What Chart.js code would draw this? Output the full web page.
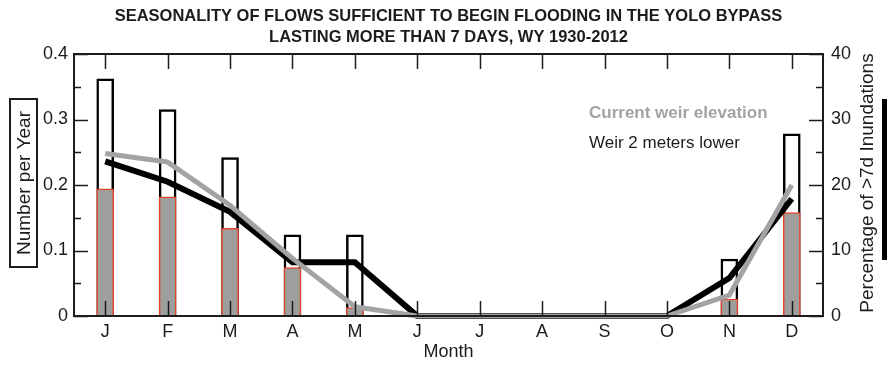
<!DOCTYPE html>
<html>
<head>
<meta charset="utf-8">
<script src="https://cdn.jsdelivr.net/npm/chart.js@4/dist/chart.umd.min.js"></script>
<style>
  html, body { margin: 0; padding: 0; background: #fff; }
  #wrap { width: 889px; height: 365px; position: relative; }
</style>
</head>
<body>
<div id="wrap"><canvas id="c"></canvas></div>
<script>
// Months of the water year shown on the x axis
const months = ['J', 'F', 'M', 'A', 'M', 'J', 'J', 'A', 'S', 'O', 'N', 'D'];

// Events per year (left axis): weir 2 m lower (open bars) and current weir (filled bars)
const ratesLowerWeir   = [0.362, 0.315, 0.242, 0.124, 0.124, 0, 0, 0, 0, 0, 0.087, 0.278];
const ratesCurrentWeir = [0.194, 0.182, 0.134, 0.074, 0.013, 0, 0, 0, 0, 0, 0.026, 0.158];

// Percentage of >7 day inundations falling in each month (right axis)
const pctCurrentWeir = [24.8, 23.5, 16.9, 8.8, 1.4, 0, 0, 0, 0, 0, 3.2, 20.0];
const pctLowerWeir   = [23.6, 20.5, 15.9, 8.2, 8.2, 0, 0, 0, 0, 0, 5.8, 17.9];

// Axis ranges and tick steps
const leftTicks  = { min: 0, max: 0.4, step: 0.1 };
const rightTicks = { min: 0, max: 40, step: 10 };

const titleLines = [
  'SEASONALITY OF FLOWS SUFFICIENT TO BEGIN FLOODING IN THE YOLO BYPASS',
  'LASTING MORE THAN 7 DAYS, WY 1930-2012'
];
const seriesNames = ['Current weir elevation', 'Weir 2 meters lower'];

const FONT = '"Liberation Sans", Arial, Helvetica, sans-serif';
const INK = '#1c1c1c';
const GREY = '#a3a3a3';

// Frame, inward tick marks, titles and legend text drawn on top of the plot
const decorations = {
  id: 'decorations',
  afterDatasetsDraw(chart) {
    const { ctx, chartArea: a, scales } = chart;
    const x = scales.x, yl = scales.y, yr = scales.y1;
    ctx.save();
    ctx.strokeStyle = INK;
    ctx.lineWidth = 1.5;
    ctx.beginPath();
    // month ticks, top and bottom
    x.ticks.forEach((t, i) => {
      const px = Math.round(x.getPixelForTick(i)) + 0.5;
      ctx.moveTo(px, a.top); ctx.lineTo(px, a.top + 15);
      ctx.moveTo(px, a.bottom); ctx.lineTo(px, a.bottom - 15);
    });
    // value ticks on both sides, with a minor tick halfway
    const side = (scale, xEdge, dir) => {
      const vals = scale.ticks.map(t => t.value);
      vals.forEach((v, i) => {
        const py = Math.round(scale.getPixelForValue(v)) + 0.5;
        ctx.moveTo(xEdge, py); ctx.lineTo(xEdge + dir * 14, py);
        if (i < vals.length - 1) {
          const pm = Math.round(scale.getPixelForValue((v + vals[i + 1]) / 2)) + 0.5;
          ctx.moveTo(xEdge, pm); ctx.lineTo(xEdge + dir * 7, pm);
        }
      });
    };
    side(yl, a.left, 1);
    side(yr, a.right, -1);
    ctx.stroke();
    // plot frame
    ctx.lineWidth = 2;
    ctx.strokeRect(a.left, a.top, a.right - a.left, a.bottom - a.top);
    ctx.restore();
  },
  afterDraw(chart) {
    const { ctx, chartArea: a } = chart;
    ctx.save();
    ctx.fillStyle = INK;
    ctx.textAlign = 'center';
    ctx.textBaseline = 'middle';
    // chart title
    ctx.font = 'bold 16.5px ' + FONT;
    const cx = (a.left + a.right) / 2;
    ctx.fillText(titleLines[0], cx, 16);
    ctx.fillText(titleLines[1], cx, 37);
    // x axis title
    ctx.font = '18px ' + FONT;
    ctx.fillText('Month', cx, 352);
    // left axis title in a box
    ctx.save();
    ctx.translate(23.5, 183);
    ctx.rotate(-Math.PI / 2);
    ctx.font = '19px ' + FONT;
    ctx.fillText('Number per Year', 0, 1);
    ctx.restore();
    ctx.lineWidth = 2;
    ctx.strokeStyle = INK;
    ctx.strokeRect(10, 99, 27, 168);
    // right axis title
    ctx.save();
    ctx.translate(868, 183);
    ctx.rotate(-Math.PI / 2);
    ctx.font = '19px ' + FONT;
    ctx.fillText('Percentage of >7d Inundations', 0, 0);
    ctx.restore();
    // black line sample beside the right axis title
    ctx.fillStyle = '#000';
    ctx.fillRect(882, 99, 5, 161);
    // series legend
    ctx.textAlign = 'left';
    ctx.font = 'bold 17px ' + FONT;
    ctx.fillStyle = GREY;
    ctx.fillText(seriesNames[0], 589, 113);
    ctx.font = '17px ' + FONT;
    ctx.fillStyle = INK;
    ctx.fillText(seriesNames[1], 589, 143);
    ctx.restore();
  }
};

new Chart(document.getElementById('c'), {
  data: {
    labels: months,
    datasets: [
      {
        type: 'line', label: seriesNames[0], data: pctCurrentWeir, yAxisID: 'y1',
        borderColor: GREY, borderWidth: 5, pointRadius: 0, tension: 0,
        borderJoinStyle: 'round', borderCapStyle: 'butt', clip: false, order: 0
      },
      {
        type: 'line', label: seriesNames[1], data: pctLowerWeir, yAxisID: 'y1',
        borderColor: '#000', borderWidth: 6, pointRadius: 0, tension: 0,
        borderJoinStyle: 'miter', borderCapStyle: 'butt', clip: false, order: 1
      },
      {
        type: 'bar', label: 'current', data: ratesCurrentWeir, yAxisID: 'y',
        backgroundColor: '#9e9e9c', borderColor: '#e2452e', borderWidth: 1.5,
        barThickness: 17, grouped: false, order: 2
      },
      {
        type: 'bar', label: 'lower', data: ratesLowerWeir, yAxisID: 'y',
        backgroundColor: '#ffffff', borderColor: '#000', borderWidth: 2.5,
        barThickness: 17, grouped: false, order: 3
      }
    ]
  },
  options: {
    responsive: true,
    maintainAspectRatio: false,
    animation: false,
    layout: { padding: { top: 54, left: 0, right: 0, bottom: 0 } },
    plugins: { legend: { display: false }, title: { display: false }, tooltip: { enabled: false } },
    scales: {
      x: {
        type: 'category', offset: true,
        grid: { display: false, drawTicks: false },
        border: { display: false },
        ticks: { color: INK, font: { family: FONT, size: 18 }, padding: 5, maxRotation: 0, autoSkip: false },
        afterFit(s) { s.height = 49; }
      },
      y: {
        position: 'left', min: leftTicks.min, max: leftTicks.max,
        grid: { display: false, drawTicks: false },
        border: { display: false },
        ticks: { stepSize: leftTicks.step, color: INK, font: { family: FONT, size: 18 }, padding: 6 },
        afterFit(s) { s.width = 74; }
      },
      y1: {
        position: 'right', min: rightTicks.min, max: rightTicks.max,
        grid: { display: false, drawTicks: false },
        border: { display: false },
        ticks: { stepSize: rightTicks.step, color: INK, font: { family: FONT, size: 18 }, padding: 8 },
        afterFit(s) { s.width = 66; }
      }
    }
  },
  plugins: [decorations]
});
</script>
</body>
</html>
